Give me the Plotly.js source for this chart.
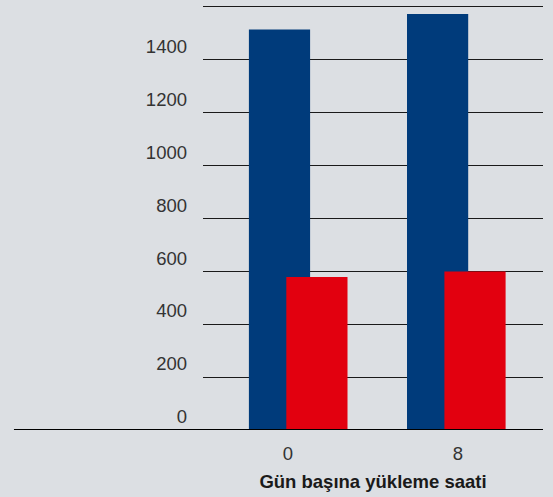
<!DOCTYPE html>
<html>
<head>
<meta charset="utf-8">
<script src="https://cdn.plot.ly/plotly-3.0.1.min.js"></script>
<style>html,body{margin:0;padding:0;background:#dcdfe3;}#chart{width:553px;height:497px;}</style>
</head>
<body>
<div id="chart"></div>
<script>
const categories = ["0", "8"];
const seriesBlue = [1512, 1570];
const seriesRed = [577, 598];
const yTickVals = [0, 200, 400, 600, 800, 1000, 1200, 1400, 1600];
const yTickText = ["0", "200", "400", "600", "800", "1000", "1200", "1400", ""];
const xTitle = "Gün başına yükleme saati";

const blue = "#003b7b";
const red = "#e2000f";
const bg = "#dcdfe3";

const traces = [
  {type: "bar", x: categories, y: seriesBlue, marker: {color: blue, line: {width: 0}},
   width: 0.36, offset: [-0.23, -0.30], hoverinfo: "none"},
  {type: "bar", x: categories, y: seriesRed, marker: {color: red, line: {width: 0}},
   width: 0.36, offset: [-0.01, -0.08], hoverinfo: "none"}
];

const layout = {
  width: 553, height: 497,
  paper_bgcolor: bg, plot_bgcolor: bg,
  margin: {l: 203, r: 10, t: 5, b: 67},
  barmode: "overlay",
  showlegend: false,
  font: {family: "Liberation Sans, Arial, sans-serif", color: "#333"},
  xaxis: {
    type: "category", showgrid: false, zeroline: false, showline: false,
    ticks: "", tickfont: {size: 18.5, color: "#333"},
    ticklabelstandoff: 10,
    title: {text: xTitle, font: {size: 18.5, color: "#1a1a1a", weight: "bold"}, standoff: 12}
  },
  yaxis: {
    range: [0, 1604], tickvals: yTickVals, ticktext: yTickText,
    showgrid: true, gridcolor: "#1a1a1a", gridwidth: 1,
    zeroline: false, showline: false, ticks: "",
    tickfont: {size: 18.5, color: "#333"},
    ticklabelstandoff: 15, ticklabelshift: -13
  },
  shapes: [
    {type: "line", xref: "paper", yref: "y", x0: -0.556, x1: 1, y0: 0, y1: 0,
     line: {color: "#000", width: 2}, layer: "above"}
  ]
};

Plotly.newPlot("chart", traces, layout, {staticPlot: true, displayModeBar: false});
</script>
</body>
</html>
